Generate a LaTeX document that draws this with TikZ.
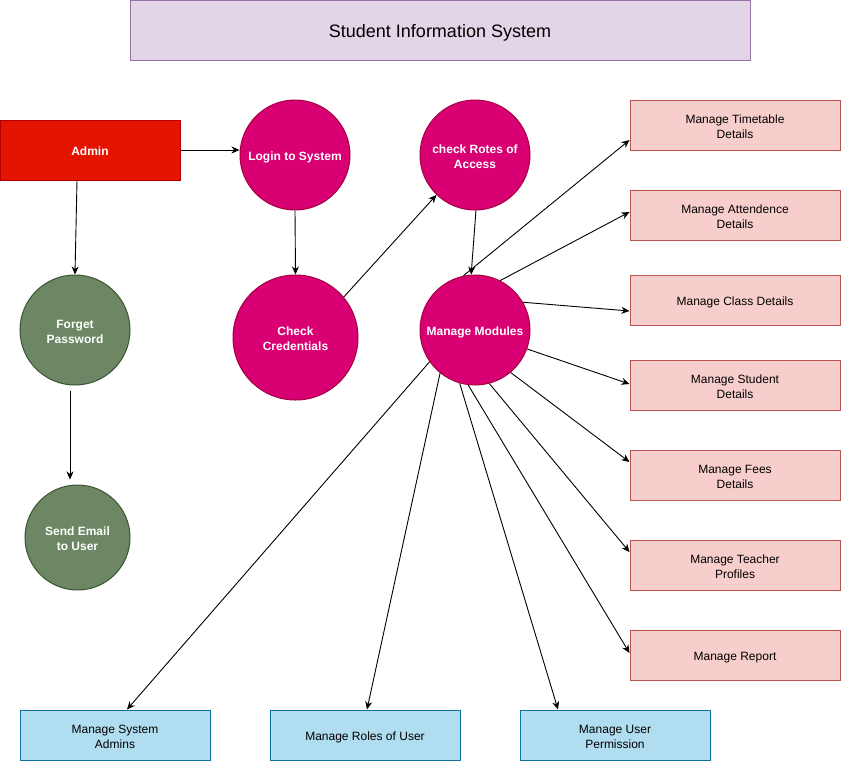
\documentclass[tikz,border=0pt]{standalone}
\usepackage{fontspec}
\setmainfont{Liberation Sans}
\usetikzlibrary{arrows.meta,calc}
\definecolor{titlefill}{HTML}{E1D5E7}
\definecolor{titledraw}{HTML}{9673A6}
\definecolor{adminfill}{HTML}{E51400}
\definecolor{admindraw}{HTML}{B20000}
\definecolor{pinkfill}{HTML}{D80073}
\definecolor{pinkdraw}{HTML}{A50040}
\definecolor{greenfill}{HTML}{6D8764}
\definecolor{greendraw}{HTML}{3A5431}
\definecolor{taskfill}{HTML}{F8CECC}
\definecolor{taskdraw}{HTML}{B85450}
\definecolor{bluefill}{HTML}{B1DDF0}
\definecolor{bluedraw}{HTML}{10739E}
\newcommand\mytab[2][2.5pt]{\raisebox{-#1}[\height][\depth]{\begin{tabular}{@{}c@{}}#2\end{tabular}}}
\begin{document}
\begin{tikzpicture}[x=1pt,y=-1pt,
  titlebox/.style={draw=titledraw,fill=titlefill,line width=1pt,minimum width=620pt,minimum height=60pt,inner sep=0pt,font=\fontsize{18}{22}\selectfont},
  adminbox/.style={draw=admindraw,fill=adminfill,line width=1pt,minimum width=180pt,minimum height=60pt,inner sep=0pt,text=white,font=\fontsize{12}{15}\selectfont\bfseries},
  pinkcirc/.style={circle,draw=pinkdraw,fill=pinkfill,line width=1pt,minimum size=110pt,inner sep=0pt,text=white,font=\fontsize{12}{15}\selectfont\bfseries},
  greencirc/.style={circle,draw=greendraw,fill=greenfill,line width=1pt,minimum size=110pt,inner sep=0pt,text=white,font=\fontsize{12}{15}\selectfont\bfseries},
  taskbox/.style={draw=taskdraw,fill=taskfill,line width=1pt,minimum width=210pt,minimum height=50pt,inner sep=0pt,font=\fontsize{12}{15}\selectfont},
  bluebox/.style={draw=bluedraw,fill=bluefill,line width=1pt,minimum width=190pt,minimum height=50pt,inner sep=0pt,font=\fontsize{12}{15}\selectfont},
  arr/.style={draw=black,line width=0.9pt,-{Stealth[length=8pt,width=7pt,inset=2.5pt]}}
]
\useasboundingbox (0,0) rectangle (841,761);

\node[titlebox] (title) at (440,30) {\mytab[3.5pt]{Student Information System}};
\node[adminbox] (admin) at (90,150) {\mytab{Admin}};

\node[pinkcirc] (login) at (295,155) {\mytab{Login to System}};
\node[pinkcirc,minimum size=125pt] (cc) at (295.5,337.5) {\mytab{Check\\Credentials}};
\node[pinkcirc] (rotes) at (475,155) {\mytab{check Rotes of\\Access}};
\node[pinkcirc] (mm) at (475,330) {\mytab{Manage Modules}};

\node[greencirc] (fp) at (75,330) {\mytab{Forget\\Password}};
\node[greencirc,minimum size=105pt] (se) at (77.5,537.5) {\mytab{Send Email\\to User}};

\node[taskbox] (tt) at (735,125) {\mytab{Manage Timetable\\Details}};
\node[taskbox] (att) at (735,215) {\mytab{Manage Attendence\\Details}};
\node[taskbox] (cls) at (735,300) {\mytab{Manage Class Details}};
\node[taskbox] (stu) at (735,385) {\mytab{Manage Student\\Details}};
\node[taskbox] (fee) at (735,475) {\mytab{Manage Fees\\Details}};
\node[taskbox] (tea) at (735,565) {\mytab{Manage Teacher\\Profiles}};
\node[taskbox] (rep) at (735,655) {\mytab{Manage Report}};

\node[bluebox] (sys) at (115,735) {\mytab{Manage System\\Admins}};
\node[bluebox] (rol) at (365,735) {\mytab{Manage Roles of User}};
\node[bluebox] (per) at (615,735) {\mytab{Manage User\\Permission}};

% connectors
\draw[arr] (admin.east) -- (admin.east -| login.west);
\draw[arr] ([xshift=-13pt]admin.south) -- (fp.north);
\draw[arr] ([xshift=-5pt,yshift=-5pt]fp.south) -- ([xshift=-7.5pt,yshift=5pt]se.north);
\draw[arr] (login.south) -- (cc.north);
\draw[arr] (cc.40) -- (rotes.-134);
\draw[arr] (rotes.-89) -- (mm.94);

\draw[arr] (mm.102) -- ([yshift=-15pt]tt.west);
\draw[arr] (mm.63) -- ([yshift=3pt]att.west);
\draw[arr] (mm.30) -- ([yshift=-11pt]cls.west);
\draw[arr] (mm.-20) -- ([yshift=1pt]stu.west);
\draw[arr] (mm.-50) -- ([yshift=13pt]fee.west);
\draw[arr] (mm.-75) -- ([yshift=13pt]tea.west);
\draw[arr] (mm.-97) -- ([yshift=2pt]rep.west);
\draw[arr] (mm.-106) -- ([xshift=-57pt]per.north);
\draw[arr] (mm.-129) -- ([xshift=2pt]rol.north);
\draw[arr] (mm.-145) -- ([xshift=12pt]sys.north);
\end{tikzpicture}
\end{document}
